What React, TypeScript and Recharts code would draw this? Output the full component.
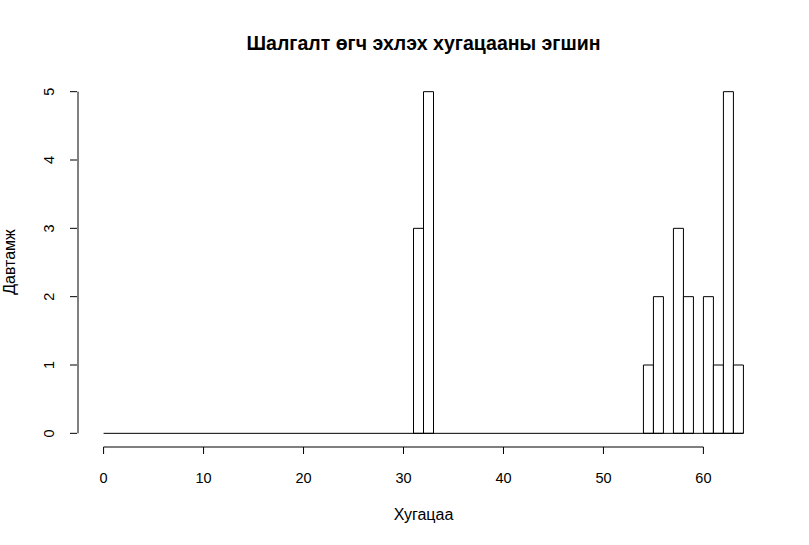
import React from "react"
import { Bar, ComposedChart, ReferenceLine, XAxis, YAxis } from "recharts"

// histogram: bins of width 1 starting at 0
const breakStart = 0
const binWidth = 1
const counts = [
  0, 0, 0, 0, 0, 0, 0, 0, 0, 0,
  0, 0, 0, 0, 0, 0, 0, 0, 0, 0,
  0, 0, 0, 0, 0, 0, 0, 0, 0, 0,
  0, 3, 5, 0, 0, 0, 0, 0, 0, 0,
  0, 0, 0, 0, 0, 0, 0, 0, 0, 0,
  0, 0, 0, 0, 1, 2, 0, 3, 2, 0,
  2, 1, 5, 1,
]
const xTicks = [0, 10, 20, 30, 40, 50, 60]
const yTicks = [0, 1, 2, 3, 4, 5]

const title = "Шалгалт өгч эхлэх хугацааны эгшин"
const xLabel = "Хугацаа"
const yLabel = "Давтамж"

const data = counts.map((c, i) => ({
  mid: breakStart + i * binWidth + binWidth / 2,
  count: c,
}))

const breakEnd = breakStart + counts.length * binWidth
// R pads the axis ranges by 4%
const xPad = (breakEnd - breakStart) * 0.04
const xDomain = [breakStart - xPad, breakEnd + xPad]
const yPad = (yTicks[yTicks.length - 1] - yTicks[0]) * 0.04
const yDomain = [yTicks[0] - yPad, yTicks[yTicks.length - 1] + yPad]

const font = "'Liberation Sans', Arial, Helvetica, sans-serif"

const YTick = (props: any) => {
  const { x, y, payload } = props
  return (
    <g>
      <line x1={x} y1={y} x2={x + 7} y2={y} stroke="#000" />
      <text
        x={x - 16}
        y={y}
        transform={`rotate(-90, ${x - 16}, ${y})`}
        textAnchor="middle"
        fontSize={14.5}
        fontFamily={font}
        fill="#000"
      >
        {payload.value}
      </text>
    </g>
  )
}

const XTick = (props: any) => {
  const { x, y, payload } = props
  return (
    <g>
      <line x1={x} y1={y - 8} x2={x} y2={y - 1} stroke="#000" />
      <text
        x={x}
        y={y + 28}
        textAnchor="middle"
        fontSize={14.5}
        fontFamily={font}
        fill="#000"
      >
        {payload.value}
      </text>
    </g>
  )
}

export default function App() {
  return (
    <div
      style={{
        position: "absolute",
        left: 0,
        top: 0,
        width: 809,
        height: 545,
        background: "#fff",
        fontFamily: font,
      }}
    >
      <div
        style={{
          position: "absolute",
          left: 0,
          width: 847,
          top: 31,
          textAlign: "center",
          fontWeight: "bold",
          fontSize: 19.5,
          lineHeight: "24px",
        }}
      >
        {title}
      </div>
      <div
        style={{
          position: "absolute",
          left: 0,
          width: 847,
          top: 505,
          textAlign: "center",
          fontSize: 16,
          lineHeight: "20px",
        }}
      >
        {xLabel}
      </div>
      <div
        style={{
          position: "absolute",
          left: 10 - 50,
          top: 262 - 10,
          width: 100,
          textAlign: "center",
          fontSize: 16,
          lineHeight: "20px",
          transform: "rotate(-90deg)",
        }}
      >
        {yLabel}
      </div>
      <ComposedChart
        width={809}
        height={545}
        data={data}
        margin={{ top: 78, right: 40, bottom: 68, left: 38 }}
        barCategoryGap={0}
        barGap={0}
        style={{ position: "absolute", left: 0, top: 0 }}
      >
        <XAxis
          type="number"
          dataKey="mid"
          domain={xDomain}
          ticks={xTicks}
          axisLine={false}
          tickLine={false}
          tick={<XTick />}
          height={30}
          interval={0}
          allowDataOverflow
        />
        <YAxis
          type="number"
          domain={yDomain}
          ticks={yTicks}
          axisLine={false}
          tickLine={false}
          tick={<YTick />}
          width={40}
          interval={0}
          allowDataOverflow
        />
        <ReferenceLine
          segment={[
            { x: xTicks[0], y: yDomain[0] },
            { x: xTicks[xTicks.length - 1], y: yDomain[0] },
          ]}
          stroke="#000"
          ifOverflow="visible"
        />
        <ReferenceLine
          segment={[
            { x: xDomain[0], y: yTicks[0] },
            { x: xDomain[0], y: yTicks[yTicks.length - 1] },
          ]}
          stroke="#000"
          ifOverflow="visible"
        />
        <ReferenceLine
          segment={[
            { x: breakStart, y: 0 },
            { x: breakEnd, y: 0 },
          ]}
          stroke="#000"
          ifOverflow="visible"
        />
        <Bar
          dataKey="count"
          fill="#fff"
          stroke="#000"
          strokeWidth={1}
          isAnimationActive={false}
        />
      </ComposedChart>
    </div>
  )
}
